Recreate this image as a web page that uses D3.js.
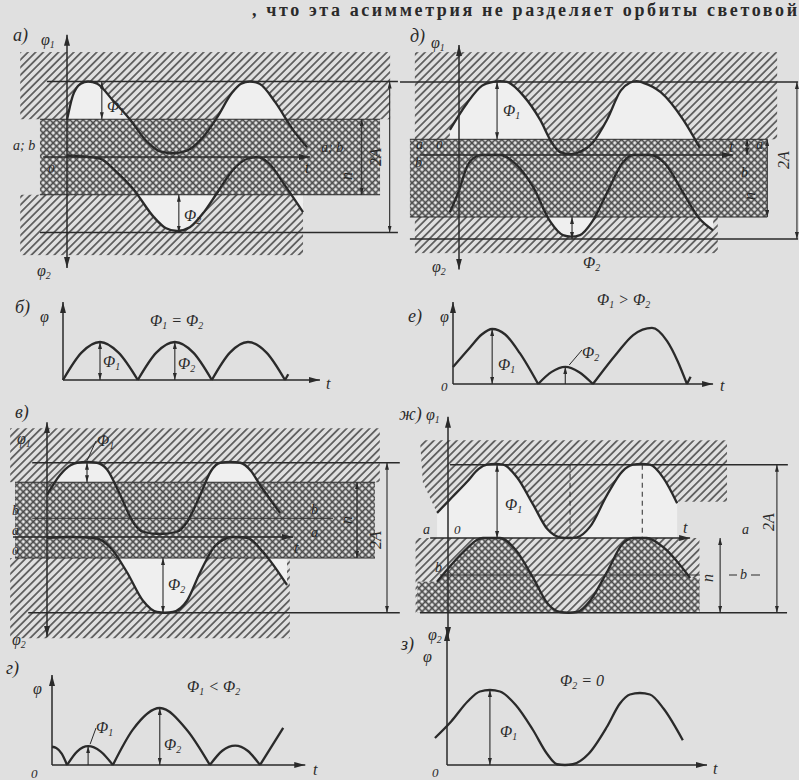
<!DOCTYPE html>
<html>
<head>
<meta charset="utf-8">
<script src="https://cdn.jsdelivr.net/npm/d3@7"></script>
<style>
  body { margin: 0; background: #e0e0e0; }
  svg { display: block; }
  text { font-family: "Liberation Serif", "DejaVu Serif", serif; font-style: italic; fill: #2a2a2a; }
</style>
</head>
<body>
<svg width="799" height="780"></svg>
<script>
// phase t in degrees, flux in units of A

// а) a and b coincide
const aUpper = [[0,0.49],[12,0.8],[30,0.97],[46,1],[66,0.97],[100,0.75],[137,0.5],[175,0.2],[205,0.07],[231,0.05],[260,0.08],[295,0.25],[327,0.52],[360,0.85],[380,0.97],[399,1],[420,0.97],[455,0.72],[493,0.36],[524,0.13]];
const aLower = [[0,0.02],[30,0.01],[72,-0.02],[105,-0.18],[144,-0.42],[190,-0.8],[215,-0.94],[240,-0.98],[268,-0.93],[300,-0.72],[327,-0.48],[365,-0.15],[395,-0.02],[415,0],[440,-0.08],[478,-0.4],[515,-0.73]];
const aLevels = { top: 1, bandTop: 0.5, bandBot: -0.5, bottom: -1 };

// д) a above b
const dUpper = [[-24,0.32],[21,0.66],[60,0.88],[90,0.93],[108,0.94],[126,0.93],[170,0.75],[213,0.45],[245,0.15],[265,0.04],[292,0.01],[318,0.04],[350,0.15],[389,0.45],[425,0.82],[449,0.92],[466,0.94],[484,0.92],[530,0.8],[589,0.45],[633,0.09]];
const dLower = [[-24,-0.73],[0,-0.45],[21,-0.15],[45,-0.02],[63,0],[108,0],[150,-0.12],[195,-0.41],[240,-0.85],[273,-1.02],[295,-1.04],[318,-1.02],[350,-0.85],[389,-0.48],[430,-0.1],[457,0],[502,0],[540,-0.1],[589,-0.48],[630,-0.8],[668,-0.96]];
const dLevels = { top: 0.93, bandTop: 0.2, bandBot: -0.79, bottom: -1.07 };

// в) b above a
const vUpper = [[0,0.56],[33,0.83],[60,0.96],[75,0.99],[100,1],[125,0.99],[150,0.9],[183,0.56],[215,0.2],[240,0.07],[282,0.04],[325,0.07],[350,0.2],[383,0.56],[410,0.88],[433,0.99],[458,1],[483,0.99],[510,0.88],[533,0.69],[583,0.32]];
const vLower = [[0,-0.01],[60,0],[125,-0.02],[160,-0.15],[200,-0.47],[240,-0.85],[275,-1],[295,-1.01],[315,-1],[350,-0.85],[383,-0.47],[420,-0.12],[465,0],[500,-0.01],[540,-0.2],[600,-0.64]];
const vLevels = { top: 0.99, bandTop: 0.73, b: 0.25, bandBot: -0.28, bottom: -1.01 };

// ж) φ2 = 0
const jUpper = [[-27,0.34],[10,0.55],[47,0.76],[75,0.93],[96,0.99],[116,1],[136,0.99],[170,0.82],[210,0.45],[245,0.12],[276,0.01],[297,0],[318,0.01],[350,0.15],[392,0.58],[430,0.9],[456,0.99],[477,1],[498,0.99],[530,0.82],[565,0.47]];
const jLower = [[-27,-0.59],[10,-0.35],[47,-0.14],[70,-0.03],[86,0],[128,0],[165,-0.15],[210,-0.54],[245,-0.88],[276,-1],[297,-1.01],[318,-1],[350,-0.85],[392,-0.46],[430,-0.08],[456,0],[490,0],[530,-0.12],[597,-0.54]];
const jLevels = { top: 0.99, a: 0, b: -0.5, bottom: -1.01 };

// resulting flux, one array per arch
const bArches = [
  [[0,0],[45,0.72],[90,1],[135,0.72],[182,0]],
  [[182,0],[227,0.72],[272,1],[317,0.72],[362,0]],
  [[362,0],[406,0.72],[450,1],[495,0.72],[540,0]],
  [[540,0],[548,0.15]]
];
const eArches = [
  [[0,0.31],[33,0.67],[55,0.9],[75,1],[100,0.9],[128,0.56],[163,0]],
  [[163,0],[189,0.22],[215,0.31],[241,0.22],[268,0]],
  [[268,0],[314,0.56],[345,0.89],[381,1.02],[410,0.78],[430,0.42],[448,0]],
  [[448,0],[455,0.13]]
];
const gArches = [
  [[0,0.32],[8,0.3],[18,0.2],[28,0]],
  [[28,0],[47,0.24],[67,0.33],[90,0.24],[113,0]],
  [[113,0],[150,0.62],[200,1],[250,0.62],[293,0]],
  [[293,0],[316,0.25],[340,0.34],[363,0.25],[386,0]],
  [[386,0],[429,0.65]]
];
const zCurve = [[-29,0.36],[10,0.58],[50,0.85],[79,0.98],[103,1],[127,0.98],[165,0.8],[206,0.47],[240,0.15],[264,0.01],[283,0],[302,0.01],[340,0.15],[384,0.51],[415,0.82],[439,0.94],[463,0.96],[487,0.94],[520,0.75],[566,0.33]];

// ---------- layout ----------
const layout = {
  a: { x0: 67, y0: 157, period: 165, unit: 75.5, hatchTop: [-102, 705, 1.39], band: [-59, 683], hatchLow: [-102, 515, -1.3],
       topLine: [-44, 722], botLine: [-59, 722], tAxis: [-52, 530], vAxis: [1.62, -1.47], dim2A: 704, dimN: 643, phi1: 76, phi2: 244 },
  d: { x0: 459, y0: 155, period: 137, unit: 78.5, hatchTop: [-116, 836, 1.31], band: [-129, 810], hatchLow: [-116, 680, -1.25],
       topLine: [-155, 891], botLine: [-129, 891], tAxis: [-102, 720], vAxis: [1.4, -1.46], dim2A: 888, dimN: 810, phi1: 100, phi2: 297 },
  v: { x0: 47, y0: 537, period: 144, unit: 75, hatchTop: [-92, 832, 1.45], band: [-80, 820], hatchLow: [-92, 607, -1.35],
       topLine: [-37, 882], botLine: [-47, 882], tAxis: [-85, 615], vAxis: [1.53, -1.33], dim2A: 850, dimN: 775, phi1: 100, phi2: 290 },
  j: { x0: 448, y0: 538, period: 146, unit: 74 },
  b: { x0: 63, y0: 380, period: 148, unit: 38, vTop: 2.05, tEnd: 625 },
  e: { x0: 453, y0: 384, period: 188, unit: 55, vTop: 1.49, tEnd: 498 },
  g: { x0: 52, y0: 765, period: 194, unit: 57, vTop: 1.58, tEnd: 470 },
  z: { x0: 447, y0: 765, period: 150, unit: 75, vTop: 1.8, tEnd: 624 }
};

const INK = "#2a2a2a";
const LIGHT = "#efefef";
const svg = d3.select("svg");

svg.append("rect").attr("width", 799).attr("height", 780).attr("fill", "#e0e0e0");

const defs = svg.append("defs");
const hatch = defs.append("pattern").attr("id", "hatch").attr("patternUnits", "userSpaceOnUse")
  .attr("width", 5.4).attr("height", 5.4).attr("patternTransform", "rotate(45)");
hatch.append("line").attr("x1", 2.7).attr("y1", 0).attr("x2", 2.7).attr("y2", 5.4)
  .attr("stroke", "#595959").attr("stroke-width", 1.7);

const cross = defs.append("pattern").attr("id", "cross").attr("patternUnits", "userSpaceOnUse")
  .attr("width", 4.7).attr("height", 4.7).attr("patternTransform", "rotate(45)");
cross.append("rect").attr("width", 4.7).attr("height", 4.7).attr("fill", "#ececec");
cross.append("line").attr("x1", 2.35).attr("y1", 0).attr("x2", 2.35).attr("y2", 4.7).attr("stroke", "#4a4a4a").attr("stroke-width", 1.7);
cross.append("line").attr("x1", 0).attr("y1", 2.35).attr("x2", 4.7).attr("y2", 2.35).attr("stroke", "#4a4a4a").attr("stroke-width", 1.7);

function marker(id, len, wid) {
  defs.append("marker").attr("id", id).attr("viewBox", `0 0 ${len} ${wid}`)
    .attr("refX", len).attr("refY", wid / 2)
    .attr("markerWidth", len).attr("markerHeight", wid)
    .attr("markerUnits", "userSpaceOnUse").attr("orient", "auto-start-reverse")
    .append("path").attr("d", `M0,0L${len},${wid / 2}L0,${wid}Z`).attr("fill", INK);
}
marker("arr", 11, 6);
marker("arrS", 7, 4);

function scales(p) {
  return {
    x: d3.scaleLinear().domain([0, 360]).range([p.x0, p.x0 + p.period]),
    y: d3.scaleLinear().domain([0, 1]).range([p.y0, p.y0 - p.unit])
  };
}

function seg(g, x1, y1, x2, y2, o = {}) {
  const l = g.append("line").attr("x1", x1).attr("y1", y1).attr("x2", x2).attr("y2", y2)
    .attr("stroke", INK).attr("stroke-width", o.w || 1.3);
  if (o.end) l.attr("marker-end", `url(#${o.end})`);
  if (o.start) l.attr("marker-start", `url(#${o.start})`);
  if (o.dash) l.attr("stroke-dasharray", o.dash);
  return l;
}

function box(g, s, t0, t1, v0, v1, fill) {
  g.append("rect").attr("x", s.x(t0)).attr("y", Math.min(s.y(v0), s.y(v1)))
    .attr("width", s.x(t1) - s.x(t0)).attr("height", Math.abs(s.y(v1) - s.y(v0)))
    .attr("fill", fill);
}

function curveLine(s) {
  return d3.line().x(d => s.x(d[0])).y(d => s.y(d[1])).curve(d3.curveMonotoneX);
}
function fillTo(s, lvl) {
  return d3.area().x(d => s.x(d[0])).y0(s.y(lvl)).y1(d => s.y(d[1])).curve(d3.curveMonotoneX);
}
function drawCurve(g, s, pts) {
  g.append("path").attr("d", curveLine(s)(pts)).attr("fill", "none")
    .attr("stroke", INK).attr("stroke-width", 2.3).attr("stroke-linejoin", "round");
}

function lab(x, y, str, o = {}) {
  const t = svg.append("text").attr("x", x).attr("y", y).attr("font-size", o.size || 16);
  if (o.anchor) t.attr("text-anchor", o.anchor);
  if (o.rot) t.attr("transform", `rotate(${o.rot} ${x} ${y})`);
  let sub = false;
  str.split(/(_\w)/).forEach(part => {
    if (!part) return;
    if (part[0] === "_") {
      t.append("tspan").attr("dy", 3).attr("font-size", "0.62em").text(part.slice(1));
      sub = true;
    } else {
      t.append("tspan").attr("dy", sub ? -3 : 0).text(part);
      sub = false;
    }
  });
  return t;
}

// panels with the two sinusoids and a cross-hatched slit band
function bandPanel(p, upper, lower, lv) {
  const s = scales(p);
  const g = svg.append("g");
  box(g, s, p.hatchTop[0], p.hatchTop[1], p.hatchTop[2], lv.bandTop, "url(#hatch)");
  box(g, s, p.hatchLow[0], p.hatchLow[1], lv.bandBot, p.hatchLow[2], "url(#hatch)");
  g.append("path").attr("d", fillTo(s, lv.bandTop)(upper)).attr("fill", LIGHT);
  g.append("path").attr("d", fillTo(s, lv.bandBot)(lower)).attr("fill", LIGHT);
  box(g, s, p.band[0], p.band[1], lv.bandTop, lv.bandBot, "url(#cross)");

  seg(g, s.x(p.band[0]), s.y(lv.bandTop), s.x(p.band[1]), s.y(lv.bandTop), { w: 1 });
  seg(g, s.x(p.band[0]), s.y(lv.bandBot), s.x(p.band[1]), s.y(lv.bandBot), { w: 1 });
  seg(g, s.x(p.topLine[0]), s.y(lv.top), s.x(p.topLine[1]), s.y(lv.top), { w: 1.4 });
  seg(g, s.x(p.botLine[0]), s.y(lv.bottom), s.x(p.botLine[1]), s.y(lv.bottom), { w: 1.4 });
  seg(g, s.x(p.tAxis[0]), s.y(0), s.x(p.tAxis[1]), s.y(0), { w: 1.4, end: "arr" });
  seg(g, s.x(0), s.y(p.vAxis[1]), s.x(0), s.y(p.vAxis[0]), { w: 1.5, end: "arr", start: "arr" });

  drawCurve(g, s, upper);
  drawCurve(g, s, lower);

  seg(g, s.x(p.dim2A), s.y(lv.top), s.x(p.dim2A), s.y(lv.bottom), { w: 1.1, end: "arrS", start: "arrS" });
  seg(g, s.x(p.dimN), s.y(lv.bandTop), s.x(p.dimN), s.y(lv.bandBot), { w: 1.1, end: "arrS", start: "arrS" });
  seg(g, s.x(p.phi1), s.y(lv.top), s.x(p.phi1), s.y(lv.bandTop), { w: 1.1, end: "arrS", start: "arrS" });
  seg(g, s.x(p.phi2), s.y(lv.bandBot), s.x(p.phi2), s.y(lv.bottom), { w: 1.1, end: "arrS", start: "arrS" });
  return { g, s };
}

// panels with the resulting flux
function archPanel(p, arches) {
  const s = scales(p);
  const g = svg.append("g");
  seg(g, s.x(0), s.y(0), s.x(0), s.y(p.vTop), { w: 1.5, end: "arr" });
  seg(g, s.x(0), s.y(0), s.x(p.tEnd), s.y(0), { w: 1.5, end: "arr" });
  arches.forEach(a => drawCurve(g, s, a));
  return { g, s };
}

// ---------- а ----------
bandPanel(layout.a, aUpper, aLower, aLevels);
lab(13, 41, "а)", { size: 18 });
lab(41, 45, "φ_1");
lab(37, 276, "φ_2");
lab(13, 150, "a; b", { size: 14 });
lab(48, 173, "0", { size: 13 });
lab(321, 152, "a; b", { size: 14 });
lab(305, 173, "t");
lab(352, 176, "n", { rot: -90, anchor: "middle" });
lab(381, 157, "2A", { rot: -90, anchor: "middle" });
lab(107, 112, "Φ_1");
lab(184, 221, "Φ_2");

// ---------- д ----------
const dp = bandPanel(layout.d, dUpper, dLower, dLevels);
seg(dp.g, dp.s.x(757), dp.s.y(dLevels.bandTop), dp.s.x(757), dp.s.y(0), { w: 1, end: "arrS", start: "arrS" });
lab(410, 42, "д)", { size: 18 });
lab(431, 48, "φ_1");
lab(432, 272, "φ_2");
lab(416, 149, "a", { size: 14 });
lab(436, 149, "0", { size: 13 });
lab(415, 167, "b", { size: 14 });
lab(729, 152, "t");
lab(756, 149, "a", { size: 14 });
lab(741, 177, "b", { size: 14 });
lab(755, 196, "n", { rot: -90, anchor: "middle" });
lab(789, 160, "2A", { rot: -90, anchor: "middle" });
lab(503, 116, "Φ_1");
lab(583, 268, "Φ_2");

// ---------- б ----------
archPanel(layout.b, bArches);
const bs = scales(layout.b);
seg(svg, bs.x(90), bs.y(0), bs.x(90), bs.y(1), { w: 1.1, end: "arrS", start: "arrS" });
seg(svg, bs.x(272), bs.y(0), bs.x(272), bs.y(1), { w: 1.1, end: "arrS", start: "arrS" });
lab(15, 313, "б)", { size: 18 });
lab(40, 322, "φ");
lab(150, 326, "Φ_1 = Φ_2");
lab(103, 367, "Φ_1");
lab(178, 369, "Φ_2");
lab(326, 389, "t");

// ---------- е ----------
archPanel(layout.e, eArches);
const es = scales(layout.e);
seg(svg, es.x(75), es.y(0), es.x(75), es.y(1), { w: 1.1, end: "arrS", start: "arrS" });
seg(svg, es.x(215), es.y(0), es.x(215), es.y(0.31), { w: 1.1, end: "arrS" });
seg(svg, 582, 350, es.x(215) + 4, es.y(0.31) - 2, { w: 1 });
lab(408, 322, "е)", { size: 18 });
lab(440, 322, "φ");
lab(597, 305, "Φ_1 > Φ_2");
lab(498, 370, "Φ_1");
lab(582, 358, "Φ_2");
lab(441, 391, "0", { size: 13 });
lab(720, 391, "t");

// ---------- в ----------
const vp = bandPanel(layout.v, vUpper, vLower, vLevels);
seg(vp.g, vp.s.x(-37), vp.s.y(vLevels.b), vp.s.x(715), vp.s.y(vLevels.b), { w: 1 });
seg(vp.g, 96, 441, vp.s.x(100), vp.s.y(vLevels.top) - 2, { w: 1 });
lab(15, 418, "в)", { size: 18 });
lab(17, 444, "φ_1");
lab(12, 515, "b", { size: 14 });
lab(12, 535, "a", { size: 14 });
lab(12, 555, "0", { size: 13 });
lab(311, 514, "b", { size: 14 });
lab(311, 537, "a", { size: 14 });
lab(294, 553, "t");
lab(97, 446, "Φ_1");
lab(168, 590, "Φ_2");
lab(352, 520, "n", { rot: -90, anchor: "middle" });
lab(381, 540, "2A", { rot: -90, anchor: "middle" });
lab(12, 645, "φ_2");

// ---------- ж ----------
(function () {
  const p = layout.j, lv = jLevels;
  const s = scales(p);
  const g = svg.append("g");
  const poly = d3.line().x(d => s.x(d[0])).y(d => s.y(d[1]));
  g.append("path").attr("d", fillTo(s, 1.32)(jUpper)).attr("fill", "url(#hatch)");
  g.append("path").attr("d", poly([[-69, 1.32], [-27, 1.32], [-27, 0.34], [-62, 0.75]]) + "Z").attr("fill", "url(#hatch)");
  box(g, s, 565, 688, 1.32, 0.49, "url(#hatch)");
  g.append("path").attr("d", fillTo(s, lv.a)(jUpper)).attr("fill", LIGHT);
  box(g, s, -80, 620, lv.a, lv.bottom, "url(#hatch)");
  g.append("path").attr("d", fillTo(s, lv.bottom)(jLower)).attr("fill", "url(#cross)");
  box(g, s, -75, -27, -0.59, lv.bottom, "url(#cross)");
  box(g, s, 597, 620, -0.54, lv.bottom, "url(#cross)");

  seg(g, s.x(5), s.y(lv.top), s.x(838), s.y(lv.top), { w: 1.4 });
  seg(g, s.x(-69), s.y(lv.bottom), s.x(836), s.y(lv.bottom), { w: 1.4 });
  seg(g, s.x(-20), s.y(lv.b), s.x(621), s.y(lv.b), { w: 1 });
  seg(g, s.x(-44), s.y(lv.a), s.x(597), s.y(lv.a), { w: 1.4, end: "arr" });
  seg(g, s.x(0), s.y(-1.35), s.x(0), s.y(1.64), { w: 1.5, end: "arr", start: "arr" });
  seg(g, s.x(301), s.y(lv.top), s.x(301), s.y(lv.a), { w: 1, dash: "5,4" });
  seg(g, s.x(479), s.y(lv.top), s.x(479), s.y(lv.a), { w: 1, dash: "5,4" });

  drawCurve(g, s, jUpper);
  drawCurve(g, s, jLower);

  seg(g, s.x(811), s.y(lv.top), s.x(811), s.y(lv.bottom), { w: 1.1, end: "arrS", start: "arrS" });
  seg(g, s.x(671), s.y(lv.a), s.x(671), s.y(lv.bottom), { w: 1.1, end: "arrS", start: "arrS" });
  seg(g, s.x(121), s.y(lv.top), s.x(121), s.y(lv.a), { w: 1.1, end: "arrS", start: "arrS" });
  seg(g, 729, s.y(lv.b), 737, s.y(lv.b), { w: 1 });
  seg(g, 751, s.y(lv.b), 760, s.y(lv.b), { w: 1 });
})();
lab(399, 420, "ж)", { size: 18 });
lab(426, 420, "φ_1");
lab(423, 534, "a", { size: 14 });
lab(454, 534, "0", { size: 13 });
lab(435, 572, "b", { size: 14 });
lab(683, 533, "t");
lab(742, 534, "a", { size: 14 });
lab(740, 579, "b", { size: 14 });
lab(713, 578, "n", { rot: -90, anchor: "middle" });
lab(774, 522, "2A", { rot: -90, anchor: "middle" });
lab(505, 510, "Φ_1");
lab(428, 640, "φ_2");

// ---------- г ----------
archPanel(layout.g, gArches);
const gs = scales(layout.g);
seg(svg, gs.x(67), gs.y(0), gs.x(67), gs.y(0.33), { w: 1.1, end: "arrS" });
seg(svg, gs.x(200), gs.y(0), gs.x(200), gs.y(1), { w: 1.1, end: "arrS", start: "arrS" });
seg(svg, 96, 728, gs.x(67) + 2, gs.y(0.33) - 2, { w: 1 });
lab(6, 674, "г)", { size: 18 });
lab(33, 694, "φ");
lab(31, 778, "0", { size: 13 });
lab(187, 692, "Φ_1 < Φ_2");
lab(96, 733, "Φ_1");
lab(164, 750, "Φ_2");
lab(313, 775, "t");

// ---------- з ----------
archPanel(layout.z, [zCurve]);
const zs = scales(layout.z);
seg(svg, zs.x(103), zs.y(0), zs.x(103), zs.y(1), { w: 1.1, end: "arrS", start: "arrS" });
lab(401, 650, "з)", { size: 18 });
lab(423, 662, "φ");
lab(560, 686, "Φ_2 = 0");
lab(500, 737, "Φ_1");
lab(432, 777, "0", { size: 13 });
lab(713, 774, "t");

// running text at the top of the page
svg.append("text").attr("x", 252).attr("y", 16)
  .attr("font-size", 18).attr("font-weight", "bold").style("font-style", "normal")
  .attr("textLength", 545).attr("lengthAdjust", "spacing")
  .text(", что эта асимметрия не разделяет орбиты световой");
</script>
</body>
</html>
